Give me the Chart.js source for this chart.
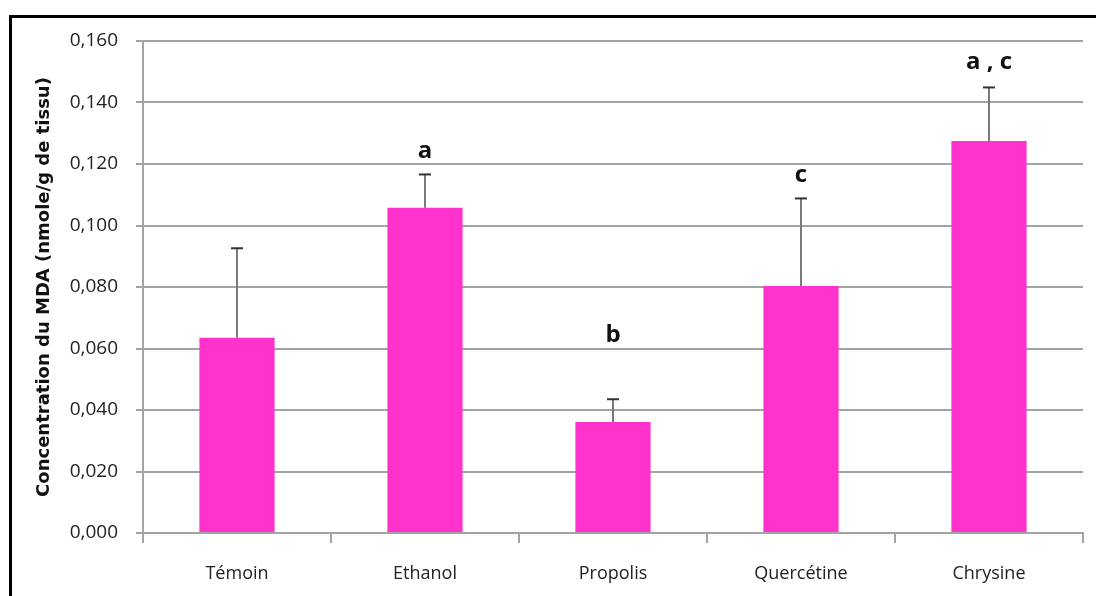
<!DOCTYPE html>
<html>
<head>
<meta charset="utf-8">
<script src="https://cdn.jsdelivr.net/npm/chart.js@4"></script>
<style>
  html, body { margin: 0; padding: 0; background: #ffffff; }
  #wrap { width: 1096px; height: 596px; position: relative; }
</style>
</head>
<body>
<div id="wrap"><canvas id="c" width="1096" height="596"></canvas></div>
<script>
// MDA concentration per treatment group (nmole/g de tissu)
const groups = ['Témoin', 'Ethanol', 'Propolis', 'Quercétine', 'Chrysine'];
const mdaMean = [0.0635, 0.1058, 0.0361, 0.0803, 0.1275];
const mdaError = [0.0291, 0.0108, 0.0074, 0.0285, 0.0174];
// significance letters and the level (in nmole/g) where each is written
const sigLetters = ['', 'a', 'b', 'c', 'a , c'];
const sigLevels = [null, 0.1243, 0.0642, 0.1163, 0.1532];
const yTicks = [0, 0.02, 0.04, 0.06, 0.08, 0.10, 0.12, 0.14, 0.16];

const gridColor = '#a3a3a3';
const textFont = "'Open Sans', 'Liberation Sans', sans-serif";

// white page with the black frame around the chart
const frame = {
  id: 'frame',
  beforeDraw(chart) {
    const ctx = chart.ctx;
    ctx.save();
    ctx.fillStyle = '#ffffff';
    ctx.fillRect(0, 0, chart.width, chart.height);
    ctx.strokeStyle = '#000000';
    ctx.lineWidth = 3;
    ctx.strokeRect(10.5, 16.5, chart.width + 20, chart.height + 20);
    ctx.restore();
  }
};

// standard-deviation whiskers above each bar
const errorBars = {
  id: 'errorBars',
  afterDatasetsDraw(chart) {
    const ctx = chart.ctx;
    const y = chart.scales.y;
    const meta = chart.getDatasetMeta(0);
    ctx.save();
    meta.data.forEach((bar, i) => {
      const yTop = y.getPixelForValue(mdaMean[i] + mdaError[i]);
      const yBase = y.getPixelForValue(mdaMean[i]);
      ctx.strokeStyle = '#7a7a7a';
      ctx.lineWidth = 2;
      ctx.beginPath();
      ctx.moveTo(bar.x, yBase);
      ctx.lineTo(bar.x, yTop);
      ctx.stroke();
      ctx.strokeStyle = '#333333';
      ctx.beginPath();
      ctx.moveTo(bar.x - 6, yTop);
      ctx.lineTo(bar.x + 6, yTop);
      ctx.stroke();
    });
    ctx.restore();
  }
};

// significance letters over the bars
const letters = {
  id: 'letters',
  afterDatasetsDraw(chart) {
    const ctx = chart.ctx;
    const y = chart.scales.y;
    const meta = chart.getDatasetMeta(0);
    ctx.save();
    ctx.fillStyle = '#111111';
    ctx.font = "bold 24px " + textFont;
    ctx.textAlign = 'center';
    ctx.textBaseline = 'middle';
    meta.data.forEach((bar, i) => {
      if (!sigLetters[i]) return;
      ctx.fillText(sigLetters[i], bar.x, y.getPixelForValue(sigLevels[i]));
    });
    ctx.restore();
  }
};

new Chart(document.getElementById('c'), {
  type: 'bar',
  data: {
    labels: groups,
    datasets: [{
      data: mdaMean,
      backgroundColor: '#ff33cc',
      borderWidth: 0,
      barPercentage: 0.4,
      categoryPercentage: 1.0
    }]
  },
  options: {
    responsive: false,
    animation: false,
    devicePixelRatio: 1,
    layout: { padding: { left: 0, right: 13, top: 41, bottom: 0 } },
    plugins: {
      legend: { display: false },
      tooltip: { enabled: false }
    },
    scales: {
      x: {
        afterFit(scale) { scale.height = 63; },
        grid: {
          offset: true,
          drawOnChartArea: false,
          drawTicks: true,
          tickLength: 10,
          color: gridColor,
          lineWidth: 2
        },
        border: { display: true, color: gridColor, width: 2 },
        ticks: {
          color: '#222222',
          font: { family: textFont, size: 18 },
          padding: 20,
          maxRotation: 0
        }
      },
      y: {
        min: 0,
        max: 0.16,
        afterFit(scale) { scale.width = 143; },
        afterBuildTicks(scale) { scale.ticks = yTicks.map(v => ({ value: v })); },
        grid: {
          color: gridColor,
          lineWidth: 2,
          drawTicks: true,
          tickLength: 7
        },
        border: { display: true, color: gridColor, width: 2 },
        ticks: {
          color: '#222222',
          font: { family: textFont, size: 19 },
          padding: 18,
          callback: v => v.toFixed(3).replace('.', ',')
        },
        title: {
          display: true,
          text: 'Concentration du MDA (nmole/g de tissu)',
          color: '#111111',
          font: { family: "'DejaVu Sans', sans-serif", size: 18, weight: 'bold' },
          padding: { top: 34, bottom: 0 }
        }
      }
    }
  },
  plugins: [frame, errorBars, letters]
});
</script>
</body>
</html>
